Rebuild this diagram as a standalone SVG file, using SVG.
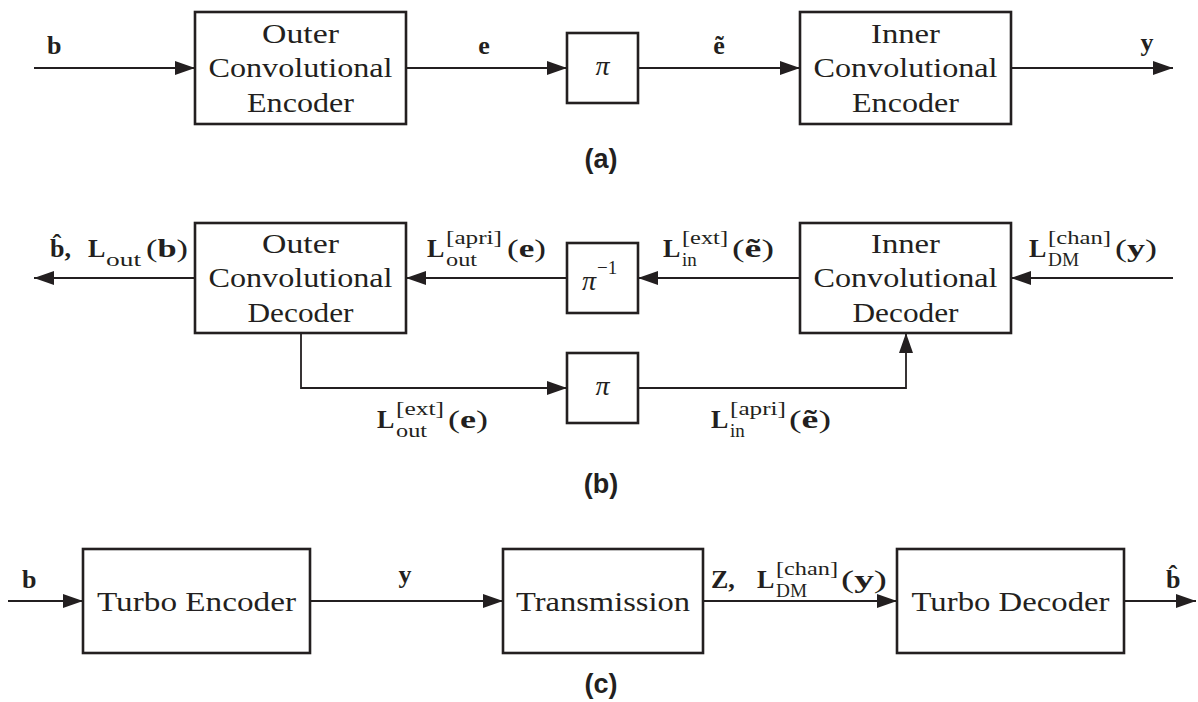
<svg xmlns="http://www.w3.org/2000/svg" width="1198" height="702" viewBox="0 0 1198 702">
<style>
.box{fill:#fff;stroke:#231f20;stroke-width:2.6}
.ln{fill:none;stroke:#231f20;stroke-width:1.8}
.t{font-family:"Liberation Serif",serif;font-size:27px;fill:#231f20;text-anchor:middle}
.m{font-family:"Liberation Serif",serif;font-size:26px;font-weight:bold;fill:#231f20}
.r{font-weight:normal}
.s{font-family:"Liberation Serif",serif;font-size:19px;fill:#231f20}
.pi{font-family:"Liberation Serif",serif;font-size:28px;font-style:italic;fill:#231f20}
.cap{font-family:"Liberation Sans",sans-serif;font-size:27px;font-weight:bold;fill:#231f20;text-anchor:middle}
</style>
<defs>
<marker id="ah" markerUnits="userSpaceOnUse" markerWidth="20" markerHeight="14" refX="20" refY="7" orient="auto">
<path d="M0,0 L20,7 L0,14 z" fill="#231f20"/>
</marker>
</defs>
<rect width="1198" height="702" fill="#fff"/>

<g id="connectors">
<path class="ln" d="M34,68 H195" marker-end="url(#ah)"/>
<path class="ln" d="M406,68 H567" marker-end="url(#ah)"/>
<path class="ln" d="M638,68 H800" marker-end="url(#ah)"/>
<path class="ln" d="M1011,68 H1173" marker-end="url(#ah)"/>
<path class="ln" d="M195,278 H34" marker-end="url(#ah)"/>
<path class="ln" d="M567,278 H406" marker-end="url(#ah)"/>
<path class="ln" d="M800,278 H638" marker-end="url(#ah)"/>
<path class="ln" d="M1173,278 H1011" marker-end="url(#ah)"/>
<path class="ln" d="M301,333 V388 H567" marker-end="url(#ah)"/>
<path class="ln" d="M638,388 H906 V333" marker-end="url(#ah)"/>
<path class="ln" d="M8,601 H83" marker-end="url(#ah)"/>
<path class="ln" d="M310,601 H503" marker-end="url(#ah)"/>
<path class="ln" d="M703,601 H897" marker-end="url(#ah)"/>
<path class="ln" d="M1124,601 H1196" marker-end="url(#ah)"/>
</g>

<g id="outer-encoder">
<rect class="box" x="195" y="12" width="211" height="112"/>
<text class="t" x="300.5" y="43" textLength="77" lengthAdjust="spacingAndGlyphs">Outer</text>
<text class="t" x="300.5" y="77" textLength="184" lengthAdjust="spacingAndGlyphs">Convolutional</text>
<text class="t" x="300.5" y="112" textLength="107" lengthAdjust="spacingAndGlyphs">Encoder</text>
</g>
<g id="interleaver-a">
<rect class="box" x="567" y="33" width="71" height="70"/>
<text class="pi" x="602.5" y="75" text-anchor="middle">π</text>
</g>
<g id="inner-encoder">
<rect class="box" x="800" y="12" width="211" height="112"/>
<text class="t" x="905.5" y="43" textLength="69" lengthAdjust="spacingAndGlyphs">Inner</text>
<text class="t" x="905.5" y="77" textLength="184" lengthAdjust="spacingAndGlyphs">Convolutional</text>
<text class="t" x="905.5" y="112" textLength="107" lengthAdjust="spacingAndGlyphs">Encoder</text>
</g>

<g id="labels-a">
<text class="m" x="47" y="54">b</text>
<text class="m" x="484" y="54" text-anchor="middle">e</text>
<text class="m" x="719" y="54" text-anchor="middle">ẽ</text>
<text class="m" x="1147" y="51" text-anchor="middle">y</text>
<text class="cap" x="601" y="168">(a)</text>
</g>

<g id="outer-decoder">
<rect class="box" x="195" y="223" width="211" height="110"/>
<text class="t" x="300.5" y="253" textLength="77" lengthAdjust="spacingAndGlyphs">Outer</text>
<text class="t" x="300.5" y="287" textLength="184" lengthAdjust="spacingAndGlyphs">Convolutional</text>
<text class="t" x="300.5" y="322" textLength="106" lengthAdjust="spacingAndGlyphs">Decoder</text>
</g>
<g id="deinterleaver-b">
<rect class="box" x="567" y="243" width="71" height="70"/>
<text class="pi" x="582" y="290">π</text>
<text class="s" x="597" y="274">−1</text>
</g>
<g id="interleaver-b">
<rect class="box" x="567" y="353" width="71" height="70"/>
<text class="pi" x="602.5" y="395" text-anchor="middle">π</text>
</g>
<g id="inner-decoder">
<rect class="box" x="800" y="223" width="211" height="110"/>
<text class="t" x="905.5" y="253" textLength="69" lengthAdjust="spacingAndGlyphs">Inner</text>
<text class="t" x="905.5" y="287" textLength="184" lengthAdjust="spacingAndGlyphs">Convolutional</text>
<text class="t" x="905.5" y="322" textLength="106" lengthAdjust="spacingAndGlyphs">Decoder</text>
</g>

<g id="labels-b">
<text class="m" x="50" y="257">b̂,</text>
<text class="m" x="88" y="257">L</text>
<text class="s" x="106" y="266" textLength="35" lengthAdjust="spacingAndGlyphs">out</text>
<text class="m" x="146" y="257" textLength="42" lengthAdjust="spacingAndGlyphs"><tspan class="r">(</tspan>b<tspan class="r">)</tspan></text>

<text class="m" x="427" y="257">L</text>
<text class="s" x="446" y="244" textLength="56" lengthAdjust="spacingAndGlyphs">[apri]</text>
<text class="s" x="446" y="266" textLength="31" lengthAdjust="spacingAndGlyphs">out</text>
<text class="m" x="507" y="257" textLength="39" lengthAdjust="spacingAndGlyphs"><tspan class="r">(</tspan>e<tspan class="r">)</tspan></text>

<text class="m" x="663" y="257">L</text>
<text class="s" x="682" y="244" textLength="46" lengthAdjust="spacingAndGlyphs">[ext]</text>
<text class="s" x="682" y="266">in</text>
<text class="m" x="732" y="257" textLength="42" lengthAdjust="spacingAndGlyphs"><tspan class="r">(</tspan>ẽ<tspan class="r">)</tspan></text>

<text class="m" x="1029" y="257">L</text>
<text class="s" x="1048" y="244" textLength="63" lengthAdjust="spacingAndGlyphs">[chan]</text>
<text class="s" x="1048" y="266" textLength="31" lengthAdjust="spacingAndGlyphs">DM</text>
<text class="m" x="1115" y="257" textLength="42" lengthAdjust="spacingAndGlyphs"><tspan class="r">(</tspan>y<tspan class="r">)</tspan></text>

<text class="m" x="377" y="428">L</text>
<text class="s" x="396" y="415" textLength="48" lengthAdjust="spacingAndGlyphs">[ext]</text>
<text class="s" x="396" y="437" textLength="31" lengthAdjust="spacingAndGlyphs">out</text>
<text class="m" x="448" y="428" textLength="40" lengthAdjust="spacingAndGlyphs"><tspan class="r">(</tspan>e<tspan class="r">)</tspan></text>

<text class="m" x="711" y="428">L</text>
<text class="s" x="730" y="415" textLength="56" lengthAdjust="spacingAndGlyphs">[apri]</text>
<text class="s" x="730" y="437">in</text>
<text class="m" x="789" y="428" textLength="42" lengthAdjust="spacingAndGlyphs"><tspan class="r">(</tspan>ẽ<tspan class="r">)</tspan></text>
<text class="cap" x="601" y="493">(b)</text>
</g>

<g id="turbo-encoder">
<rect class="box" x="83" y="549" width="227" height="104"/>
<text class="t" x="196.5" y="611" textLength="199" lengthAdjust="spacingAndGlyphs">Turbo Encoder</text>
</g>
<g id="transmission">
<rect class="box" x="503" y="549" width="200" height="104"/>
<text class="t" x="603" y="611" textLength="174" lengthAdjust="spacingAndGlyphs">Transmission</text>
</g>
<g id="turbo-decoder">
<rect class="box" x="897" y="549" width="227" height="104"/>
<text class="t" x="1010.5" y="611" textLength="198" lengthAdjust="spacingAndGlyphs">Turbo Decoder</text>
</g>

<g id="labels-c">
<text class="m" x="22" y="588">b</text>
<text class="m" x="405" y="583" text-anchor="middle">y</text>
<text class="m" x="711" y="588">Z,</text>
<text class="m" x="757" y="588">L</text>
<text class="s" x="776" y="575" textLength="62" lengthAdjust="spacingAndGlyphs">[chan]</text>
<text class="s" x="776" y="597" textLength="31" lengthAdjust="spacingAndGlyphs">DM</text>
<text class="m" x="841" y="588" textLength="46" lengthAdjust="spacingAndGlyphs"><tspan class="r">(</tspan>y<tspan class="r">)</tspan></text>
<text class="m" x="1166" y="588">b̂</text>
<text class="cap" x="601" y="693">(c)</text>
</g>
</svg>
